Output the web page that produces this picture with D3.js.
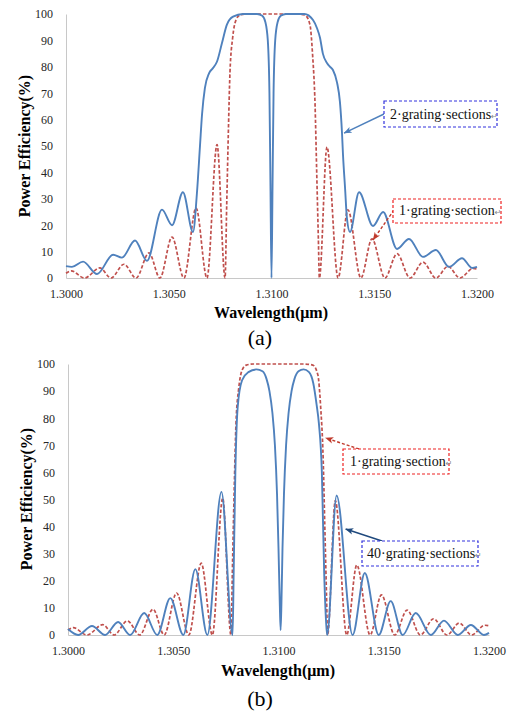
<!DOCTYPE html>
<html>
<head>
<meta charset="utf-8">
<script src="https://cdn.jsdelivr.net/npm/d3@7"></script>
<style>
  html, body { margin: 0; padding: 0; background: #fff; }
  svg { display: block; }
</style>
</head>
<body>
<script>
// ---------------- DATA ----------------
const xTicks = [1.3000, 1.3050, 1.3100, 1.3150, 1.3200];
const yTicks = [0, 10, 20, 30, 40, 50, 60, 70, 80, 90, 100];

// 1 grating section (same curve in both panels)
const wavelengthOne = [1.30000, 1.30025, 1.30090, 1.30165, 1.30219, 1.30282, 1.30341, 1.30404, 1.30457, 1.30516,
  1.30574, 1.30633, 1.30686, 1.30735, 1.30774, 1.30782, 1.30790, 1.30798, 1.30811, 1.30827,
  1.30847, 1.30880, 1.31120, 1.31163, 1.31187, 1.31200, 1.31212, 1.31220, 1.31228, 1.31233,
  1.31270, 1.31324, 1.31372, 1.31435, 1.31489, 1.31552, 1.31611, 1.31674, 1.31737, 1.31800,
  1.31859, 1.31917, 1.31981, 1.32000];
const powerOne = [1.8, 2.7, 0, 3.8, 0, 5.2, 0, 9.5, 0, 15.5,
  0, 26.5, 0, 50.5, 0, 27.6, 55, 78, 91, 97.7,
  99.6, 100, 100, 99.6, 96, 84.5, 65.5, 40, 15, 0,
  49.6, 0, 25.8, 0, 14.8, 0, 9.2, 0, 6.0, 0,
  4.4, 0, 3.6, 3.4];

// 2 grating sections (panel a)
const wavelengthTwo = [1.30000, 1.30029, 1.30083, 1.30151, 1.30229, 1.30272, 1.30336, 1.30394, 1.30467, 1.30516,
  1.30569, 1.30618, 1.30637, 1.30652, 1.30662, 1.30676, 1.30696, 1.30715, 1.30735, 1.30759,
  1.30783, 1.30813, 1.30861, 1.30930, 1.30955, 1.30970, 1.30982, 1.30990, 1.30995, 1.31000,
  1.31005, 1.31010, 1.31018, 1.31030, 1.31045, 1.31070, 1.31160, 1.31202, 1.31221, 1.31236,
  1.31250, 1.31270, 1.31285, 1.31299, 1.31319, 1.31333, 1.31343, 1.31348, 1.31358, 1.31367,
  1.31382, 1.31426, 1.31494, 1.31543, 1.31611, 1.31669, 1.31737, 1.31800, 1.31864, 1.31927,
  1.31976, 1.32000];
const powerTwo = [4.5, 4.2, 6.2, 1.5, 8.8, 7.7, 14.2, 6.5, 25.9, 20,
  32.5, 17.4, 32, 50, 62, 72, 77.5, 79.5, 82, 89,
  96, 99, 100, 100, 99.3, 97, 90, 70, 35, 0,
  35, 70, 90, 97, 99.3, 100, 100, 97.7, 94.7, 91,
  85, 81.4, 80, 78.8, 74, 66.7, 55, 46.6, 34, 22.7,
  17.4, 32.5, 19.7, 25, 11, 14.8, 8, 10.6, 4.2, 7.5,
  3.8, 4.2];

// 40 grating sections (panel b)
const wavelengthForty = [1.30000, 1.30048, 1.30114, 1.30176, 1.30238, 1.30295, 1.30362, 1.30424, 1.30486, 1.30548,
  1.30605, 1.30662, 1.30729, 1.30782, 1.30787, 1.30795, 1.30806, 1.30827, 1.30857, 1.30895,
  1.30924, 1.30943, 1.30957, 1.30971, 1.30983, 1.30993, 1.31000, 1.31006, 1.31010, 1.31014,
  1.31019, 1.31026, 1.31036, 1.31048, 1.31062, 1.31076, 1.31095, 1.31119, 1.31145, 1.31165,
  1.31181, 1.31192, 1.31206, 1.31217, 1.31226, 1.31231, 1.31276, 1.31352, 1.31410, 1.31476,
  1.31533, 1.31590, 1.31652, 1.31724, 1.31786, 1.31852, 1.31914, 1.31976, 1.32000];
const powerForty = [2.2, 0, 3.3, 0, 4.8, 0, 8.1, 0, 13.6, 0,
  24.3, 0, 52.8, 0, 23, 60, 84, 94, 97, 98,
  97.3, 94.5, 90, 82, 70, 52, 32, 12, 1.8, 12,
  32, 52, 70, 82, 90, 94.5, 97.3, 98, 97, 93,
  85, 78, 60, 23, 5, 0, 51.5, 0, 22.9, 0,
  12.5, 0, 8.1, 0, 5.3, 0, 3.7, 0, 0.8];

const labelsA = ["2\u00B7grating\u00B7sections", "1\u00B7grating\u00B7section"];
const labelsB = ["1\u00B7grating\u00B7section", "40\u00B7grating\u00B7sections"];

// ---------------- DRAW ----------------
const W = 511, H = 713;
const BLUE = "#4F81BD", RED = "#C0504D";
const svg = d3.select("body").append("svg").attr("width", W).attr("height", H);

const defs = svg.append("defs");
function marker(id, color) {
  defs.append("marker").attr("id", id)
    .attr("viewBox", "0 0 10 10").attr("refX", 9.5).attr("refY", 5)
    .attr("markerWidth", 8).attr("markerHeight", 8)
    .attr("markerUnits", "userSpaceOnUse").attr("orient", "auto")
    .append("path").attr("d", "M0,1 L10,5 L0,9 L2.5,5 Z").attr("fill", color);
}
marker("arBlue", BLUE);
marker("arRed", "#C0392B");
marker("arNavy", "#1F497D");

const serif = "'Liberation Serif', 'Times New Roman', serif";

function panel(cfg) {
  const x = d3.scaleLinear().domain([1.30, 1.32]).range([cfg.left, cfg.right]);
  const y = d3.scaleLinear().domain([0, 100]).range([cfg.bottom, cfg.top]);
  const g = svg.append("g");

  const xa = g.append("g").attr("transform", `translate(0,${cfg.bottom})`)
    .call(d3.axisBottom(x).tickValues(xTicks).tickFormat(d3.format(".4f"))
      .tickSize(0).tickSizeOuter(0).tickPadding(11.5));
  const ya = g.append("g").attr("transform", `translate(${cfg.left},0)`)
    .call(d3.axisLeft(y).tickValues(yTicks).tickSize(0).tickSizeOuter(0).tickPadding(13));
  [xa, ya].forEach(a => {
    a.select(".domain").attr("stroke", "#C8C8C8").attr("stroke-width", 1);
    a.selectAll("text").attr("font-family", serif).attr("font-size", 12).attr("fill", "#262626");
  });

  const line = d3.line().x(d => x(d[0])).y(d => y(d[1])).curve(d3.curveMonotoneX);

  cfg.series.forEach(s => {
    const pts = s.wl.map((w, i) => [w, s.p[i]]);
    g.append("path").datum(pts).attr("d", line)
      .attr("fill", "none").attr("stroke", s.color)
      .attr("stroke-width", s.dash ? 1.7 : 1.9)
      .attr("stroke-dasharray", s.dash ? "3.5,2" : null)
      .attr("stroke-linejoin", "round");
  });

  // axis titles
  g.append("text").attr("transform", `translate(${cfg.ytX},${cfg.ytY}) rotate(-90)`)
    .attr("text-anchor", "middle").attr("font-family", serif).attr("font-weight", "bold")
    .attr("font-size", 16).text("Power Efficiency(%)");
  g.append("text").attr("x", cfg.xtX).attr("y", cfg.xtY)
    .attr("text-anchor", "middle").attr("font-family", serif).attr("font-weight", "bold")
    .attr("font-size", 16).text("Wavelength(\u03BCm)");
  g.append("text").attr("x", cfg.capX).attr("y", cfg.capY)
    .attr("text-anchor", "middle").attr("font-family", serif)
    .attr("font-size", 22).text(cfg.caption);

  // annotations
  cfg.notes.forEach(n => {
    g.append("line")
      .attr("x1", n.fromX).attr("y1", n.fromY)
      .attr("x2", x(n.toWl)).attr("y2", y(n.toP))
      .attr("stroke", n.arrowColor).attr("stroke-width", 1.4)
      .attr("stroke-dasharray", n.arrowDash ? "3,2" : null)
      .attr("marker-end", `url(#${n.marker})`);
    g.append("rect").attr("x", n.bx).attr("y", n.by).attr("width", n.bw).attr("height", n.bh)
      .attr("fill", "#fff").attr("stroke", n.boxColor).attr("stroke-width", 1.2)
      .attr("stroke-dasharray", "3,2");
    const t = g.append("text").attr("x", n.tx).attr("y", n.ty)
      .attr("font-family", serif).attr("font-size", 14).attr("fill", "#111");
    t.append("tspan").text(n.text);
    t.append("tspan").attr("font-size", 8).attr("fill", "#888")
      .attr("font-family", "'DejaVu Sans', sans-serif").text("\u21B5");
  });
}

panel({
  left: 66, right: 477, top: 14, bottom: 278,
  ytX: 30, ytY: 146, xtX: 271, xtY: 318, capX: 260, capY: 345, caption: "(a)",
  series: [
    { wl: wavelengthOne, p: powerOne, color: RED, dash: true },
    { wl: wavelengthTwo, p: powerTwo, color: BLUE, dash: false }
  ],
  notes: [
    { text: labelsA[0], bx: 384, by: 101, bw: 113, bh: 26, tx: 390, ty: 119,
      boxColor: "#3333DD", fromX: 384, fromY: 114, toWl: 1.31353, toP: 54.9,
      arrowColor: BLUE, arrowDash: false, marker: "arBlue" },
    { text: labelsA[1], bx: 393, by: 199, bw: 108, bh: 24, tx: 399, ty: 215,
      boxColor: "#EE2222", fromX: 394, fromY: 210, toWl: 1.31494, toP: 14.4,
      arrowColor: "#C0392B", arrowDash: true, marker: "arRed" }
  ]
});

panel({
  left: 68, right: 489, top: 364, bottom: 635,
  ytX: 32, ytY: 499, xtX: 278, xtY: 676, capX: 260, capY: 706, caption: "(b)",
  series: [
    { wl: wavelengthOne, p: powerOne, color: RED, dash: true },
    { wl: wavelengthForty, p: powerForty, color: BLUE, dash: false }
  ],
  notes: [
    { text: labelsB[0], bx: 343, by: 449, bw: 106, bh: 25, tx: 350, ty: 466,
      boxColor: "#EE2222", fromX: 359, fromY: 449, toWl: 1.31224, toP: 72.7,
      arrowColor: "#C0392B", arrowDash: true, marker: "arRed" },
    { text: labelsB[1], bx: 362, by: 541, bw: 116, bh: 25, tx: 367, ty: 558,
      boxColor: "#3333DD", fromX: 382, fromY: 541, toWl: 1.31319, toP: 39.1,
      arrowColor: "#1F497D", arrowDash: false, marker: "arNavy" }
  ]
});
</script>
</body>
</html>
